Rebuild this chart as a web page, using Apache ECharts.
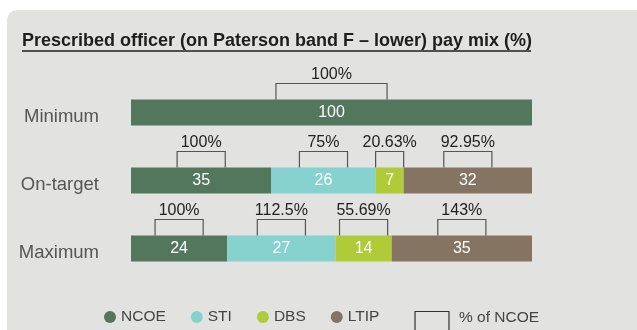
<!DOCTYPE html>
<html>
<head>
<meta charset="utf-8">
<script src="https://cdn.jsdelivr.net/npm/echarts@6/dist/echarts.min.js"></script>
<style>
  html, body { margin: 0; padding: 0; background: #ffffff; }
  #chart { width: 637px; height: 330px; }
</style>
</head>
<body>
<div id="chart"></div>
<script>
// Pay-mix rows, top to bottom
const categories = ['Minimum', 'On-target', 'Maximum'];

// Share of total package per component (%)
const ncoe = [100, 35, 24];
const sti  = [null, 26, 27];
const dbs  = [null, 7, 14];
const ltip = [null, 32, 35];

// Each component expressed as % of NCOE (shown above the brackets)
const ncoePctNcoe = ['100%', '100%', '100%'];
const stiPctNcoe  = [null, '75%', '112.5%'];
const dbsPctNcoe  = [null, '20.63%', '55.69%'];
const ltipPctNcoe = [null, '92.95%', '143%'];

const seriesNames = ['NCOE', 'STI', 'DBS', 'LTIP'];
const seriesColors = ['#53775c', '#86d2cf', '#afcb38', '#867463'];

const components = [ncoe, sti, dbs, ltip];
const pctLabels = [ncoePctNcoe, stiPctNcoe, dbsPctNcoe, ltipPctNcoe];

// Bracket span in axis units: normally 12, never wider than its segment;
// the single full-width bar gets a wider bracket.
function bracketSpan(row, value) {
  if (value >= 100) return 27.7;
  return Math.min(12, value);
}

// One bracket per drawn segment, centred on that segment
const bracketData = [];
categories.forEach((cat, r) => {
  let start = 0;
  components.forEach((arr, s) => {
    const v = arr[r];
    if (v == null) return;
    bracketData.push([start + v / 2, r, bracketSpan(r, v), pctLabels[s][r]]);
    start += v;
  });
});

const chart = echarts.init(document.getElementById('chart'), null, { renderer: 'canvas' });

const barSeries = seriesNames.map((name, i) => ({
  name: name,
  type: 'bar',
  stack: 'mix',
  barWidth: 26,
  data: components[i],
  itemStyle: { color: seriesColors[i] },
  label: {
    show: true,
    position: 'inside',
    color: '#ffffff',
    fontFamily: 'Liberation Sans',
    fontSize: 16
  },
  emphasis: { disabled: true }
}));

const BRACKET_H = 16;
const BAR_HALF = 13;

const option = {
  animation: false,
  backgroundColor: '#ffffff',
  graphic: [
    {
      type: 'rect',
      z: -10,
      shape: { x: 7, y: 10, width: 640, height: 340, r: 10 },
      style: { fill: '#e2e2e1' }
    },
    {
      type: 'text',
      z: 10,
      style: {
        x: 22, y: 41,
        text: 'Prescribed officer (on Paterson band F – lower) pay mix (%)',
        fontFamily: 'Liberation Sans',
        fontWeight: 'bold',
        fontSize: 18,
        fill: '#1e1e1e',
        verticalAlign: 'middle'
      }
    },
    {
      type: 'line',
      z: 10,
      shape: { x1: 22, y1: 51, x2: 531, y2: 51 },
      style: { stroke: '#1e1e1e', lineWidth: 1.3 }
    },
    // "% of NCOE" key: an open bracket beside its caption
    {
      type: 'polyline',
      z: 10,
      shape: { points: [[415, 331], [415, 311.5], [449, 311.5], [449, 331]] },
      style: { stroke: '#333333', lineWidth: 1.2, fill: null }
    },
    {
      type: 'text',
      z: 10,
      style: {
        x: 459, y: 317.5,
        text: '% of NCOE',
        fontFamily: 'Liberation Sans',
        fontSize: 15.5,
        fill: '#444444',
        verticalAlign: 'middle'
      }
    }
  ],
  legend: {
    data: seriesNames,
    left: 99,
    top: 304,
    icon: 'circle',
    itemWidth: 12,
    itemHeight: 12,
    itemGap: 25,
    selectedMode: false,
    textStyle: { fontFamily: 'Liberation Sans', fontSize: 15.5, color: '#444444' }
  },
  grid: { left: 131, right: 105, top: 78.5, bottom: 330 - 282.5, containLabel: false },
  xAxis: {
    type: 'value',
    min: 0,
    max: 100,
    show: false
  },
  yAxis: {
    type: 'category',
    data: categories,
    inverse: true,
    axisLine: { show: false },
    axisTick: { show: false },
    splitLine: { show: false },
    axisLabel: {
      margin: 32,
      verticalAlign: 'top',
      lineHeight: 8,
      fontFamily: 'Liberation Sans',
      fontSize: 18.5,
      color: '#555555'
    }
  },
  series: barSeries.concat([{
    name: 'pctOfNcoe',
    type: 'custom',
    coordinateSystem: 'cartesian2d',
    silent: true,
    z: 5,
    encode: { x: 0, y: 1 },
    data: bracketData,
    renderItem: function (params, api) {
      const cx = api.value(0);
      const row = api.value(1);
      const span = api.value(2);
      const label = bracketData[params.dataIndex][3];
      const left = api.coord([cx - span / 2, row]);
      const right = api.coord([cx + span / 2, row]);
      const yBar = left[1] - BAR_HALF;
      const yTop = yBar - BRACKET_H;
      return {
        type: 'group',
        children: [
          {
            type: 'polyline',
            shape: { points: [[left[0], yBar], [left[0], yTop], [right[0], yTop], [right[0], yBar]] },
            style: { stroke: '#555555', lineWidth: 1.2, fill: null }
          },
          {
            type: 'text',
            style: {
              x: (left[0] + right[0]) / 2,
              y: yTop - 1,
              text: label,
              align: 'center',
              verticalAlign: 'bottom',
              fontFamily: 'Liberation Sans',
              fontSize: 16,
              fill: '#222222'
            }
          }
        ]
      };
    }
  }])
};

chart.setOption(option);
</script>
</body>
</html>
